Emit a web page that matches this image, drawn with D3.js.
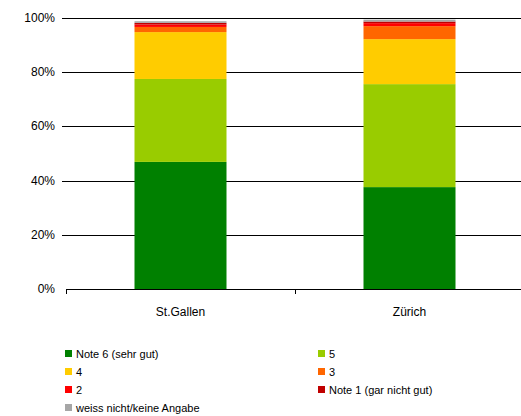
<!DOCTYPE html>
<html>
<head>
<meta charset="utf-8">
<script src="https://cdnjs.cloudflare.com/ajax/libs/d3/7.8.5/d3.min.js"></script>
<style>
  body { margin: 0; background: #fff; }
  text { font-family: "Liberation Sans", Arial, sans-serif; fill: #000; }
</style>
</head>
<body>
<div id="chart"></div>
<script>
// categories and series (percent of answers)
var places = ["St.Gallen", "Zürich"];
var seriesNames = ["Note 6 (sehr gut)", "5", "4", "3", "2", "Note 1 (gar nicht gut)", "weiss nicht/keine Angabe"];
var seriesColors = ["#008000", "#99cc00", "#ffcc00", "#ff6600", "#ff0000", "#c00000", "#a6a6a6"];
var note6 = [46.9, 37.6];
var note5 = [30.6, 38.0];
var note4 = [17.3, 16.6];
var note3 = [1.9, 4.8];
var note2 = [0.9, 1.1];
var note1 = [0.6, 0.6];
var weissNicht = [0.6, 0.7];
var yTicks = [0, 20, 40, 60, 80, 100];

var values = [note6, note5, note4, note3, note2, note1, weissNicht];

var W = 521, H = 416;
var svg = d3.select("#chart").append("svg").attr("width", W).attr("height", H);

var x = d3.scaleBand().domain(places).range([66, 524]).paddingInner(0).paddingOuter(0);
var y = d3.scaleLinear().domain([0, 100]).range([289, 18]);

// gridlines with tick stubs
svg.append("g").selectAll("line").data(yTicks.filter(d => d > 0)).join("line")
  .attr("x1", 62).attr("x2", W).attr("y1", d => Math.round(y(d)) + 0.5).attr("y2", d => Math.round(y(d)) + 0.5)
  .attr("stroke", "#000").attr("stroke-width", 1);

svg.append("g").selectAll("text").data(yTicks).join("text")
  .attr("x", 55).attr("y", d => y(d) + 4)
  .attr("text-anchor", "end").style("font-size", "12px")
  .text(d => d + "%");

// stacked bars
var rows = places.map((p, i) => {
  var r = { place: p };
  seriesNames.forEach((s, k) => r[s] = values[k][i]);
  return r;
});
var stack = d3.stack().keys(seriesNames)(rows);
var barW = 92;
svg.append("g").selectAll("g").data(stack).join("g")
  .attr("fill", (d, k) => seriesColors[k])
  .selectAll("rect").data(d => d).join("rect")
  .attr("x", d => x(d.data.place) + x.bandwidth() / 2 - barW / 2)
  .attr("width", barW)
  .attr("y", d => y(d[1]))
  .attr("height", d => y(d[0]) - y(d[1]));

// x axis
var xAxis = svg.append("g");
xAxis.append("line").attr("x1", 66).attr("x2", W).attr("y1", 289.5).attr("y2", 289.5).attr("stroke", "#000");
xAxis.selectAll("line.tk").data([66, 66 + x.bandwidth()]).join("line").attr("class", "tk")
  .attr("x1", d => Math.round(d) + 0.5).attr("x2", d => Math.round(d) + 0.5)
  .attr("y1", 289).attr("y2", 294).attr("stroke", "#000");
xAxis.selectAll("text").data(places).join("text")
  .attr("x", d => x(d) + x.bandwidth() / 2).attr("y", 316)
  .attr("text-anchor", "middle").style("font-size", "12px")
  .text(d => d);

// legend
var legend = svg.append("g").selectAll("g").data(seriesNames).join("g")
  .attr("transform", (d, k) => "translate(" + (k % 2 === 0 ? 65 : 318) + "," + (355 + Math.floor(k / 2) * 18) + ")");
legend.append("rect").attr("x", 0).attr("y", -5).attr("width", 7).attr("height", 7)
  .attr("fill", (d, k) => seriesColors[k]);
legend.append("text").attr("x", 11).attr("y", 3).style("font-size", "11px").text(d => d);
</script>
</body>
</html>
